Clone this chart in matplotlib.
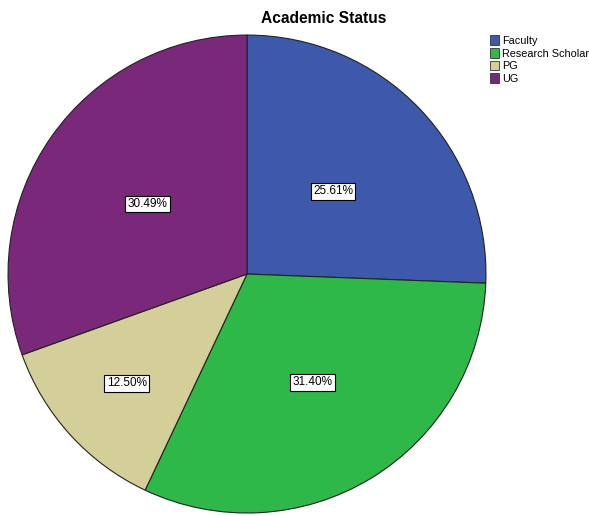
import numpy as np
import matplotlib.pyplot as plt
from matplotlib.patches import Patch

plt.rcParams['font.family'] = ['Liberation Sans', 'DejaVu Sans']

categories = ['Faculty', 'Research Scholar', 'PG', 'UG']
shares = [25.61, 31.40, 12.50, 30.49]
colors = ['#3e58ac', '#2eb848', '#d4ce98', '#7a287a']
label_dist = [0.50, 0.53, 0.68, 0.51]

fig = plt.figure(figsize=(5.89, 5.15), dpi=100)
ax = fig.add_axes([0.0136, 0.0039, 0.8115, 0.928])

wedges, texts, autotexts = ax.pie(
    shares, colors=colors, startangle=90, counterclock=False,
    autopct='%1.2f%%', pctdistance=0.5,
    wedgeprops=dict(edgecolor='#222222', linewidth=0.8),
    textprops=dict(fontsize=8.5))

for w, t, d in zip(wedges, autotexts, label_dist):
    ang = np.deg2rad((w.theta1 + w.theta2) / 2)
    t.set_position((d * np.cos(ang), d * np.sin(ang)))
    t.set_bbox(dict(boxstyle='square,pad=0.2', facecolor='white',
                    edgecolor='black', linewidth=0.8))

ax.set_xlim(-1, 1)
ax.set_ylim(-1, 1)
ax.set_aspect('equal')
ax.axis('off')

fig.text(0.55, 0.965, 'Academic Status', ha='center', va='center',
         fontsize=11.2, fontweight='bold')

handles = [Patch(facecolor=c, edgecolor='#333333', linewidth=0.6) for c in colors]
fig.legend(handles, categories, loc='upper left', bbox_to_anchor=(0.824, 0.94),
           frameon=False, fontsize=7.8, handlelength=0.9, handleheight=1.0,
           handletextpad=0.25, labelspacing=0.2, borderaxespad=0)

fig.savefig('out.png', dpi=100)
